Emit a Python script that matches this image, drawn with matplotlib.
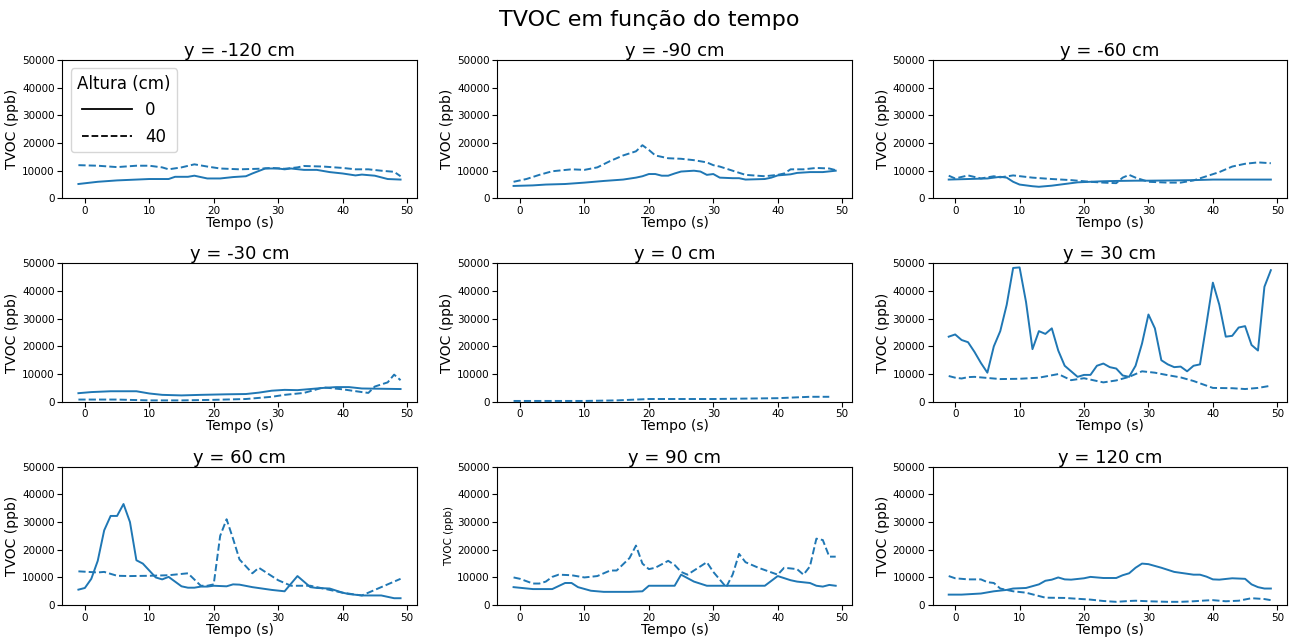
import matplotlib
matplotlib.use("Agg")
import matplotlib.pyplot as plt
from matplotlib.lines import Line2D

COR = "#1f77b4"

# ── dados (tempo em s, TVOC em ppb) ──
# y = -120 cm
t_m120_0 = [-1, 2, 5, 10, 13, 14, 16, 17, 19, 21, 23, 25, 26, 28, 30, 31, 32, 34, 36, 38, 40, 42, 43, 45, 47, 49]
v_m120_0 = [5200, 6000, 6500, 7000, 7000, 7800, 7800, 8200, 7200, 7200, 7700, 8000, 9000, 10800, 10800, 10500,
            10800, 10300, 10300, 9500, 9000, 8300, 8600, 8200, 7000, 6800]
t_m120_40 = [-1, 2, 5, 8, 10, 12, 13, 15, 17, 19, 21, 24, 27, 29, 31, 33, 34, 37, 40, 42, 44, 46, 48, 49]
v_m120_40 = [12000, 11800, 11300, 11800, 11800, 11200, 10500, 11200, 12300, 11500, 10800, 10500, 10700, 11000,
             10700, 11200, 11700, 11500, 11000, 10500, 10500, 10000, 9600, 8000]

# y = -90 cm
t_m90_0 = [-1, 2, 4, 7, 10, 13, 16, 18, 19, 20, 21, 22, 23, 24, 25, 27, 28, 29, 30, 31, 33, 34, 35, 38, 39, 40,
           42, 43, 45, 47, 49]
v_m90_0 = [4500, 4700, 5000, 5200, 5700, 6300, 6800, 7500, 8000, 8800, 8800, 8200, 8200, 9000, 9700, 10000, 9700,
           8500, 8800, 7500, 7300, 7300, 6800, 7000, 7500, 8300, 8700, 9200, 9500, 9500, 10000]
t_m90_40 = [-1, 1, 3, 5, 8, 10, 12, 14, 16, 18, 19, 20, 21, 23, 25, 27, 29, 30, 31, 33, 35, 38, 40, 41, 42, 44,
            46, 48, 49]
v_m90_40 = [6000, 7000, 8500, 9800, 10500, 10300, 11200, 13500, 15500, 17000, 19200, 17500, 15500, 14500, 14300,
            13800, 13000, 12000, 11500, 10000, 8500, 8000, 8500, 9000, 10500, 10500, 11000, 10800, 10200]

# y = -60 cm
t_m60_0 = [-1, 2, 5, 7, 8, 9, 10, 12, 13, 15, 17, 19, 21, 23, 25, 28, 30, 34, 37, 40, 44, 49]
v_m60_0 = [6800, 7000, 7200, 7800, 7500, 6000, 5000, 4400, 4200, 4600, 5200, 5800, 6000, 6200, 6300, 6400, 6400,
           6500, 6600, 6800, 6800, 6800]
t_m60_40 = [-1, 0, 2, 4, 6, 7, 9, 12, 15, 18, 21, 23, 25, 26, 27, 28, 30, 33, 35, 37, 39, 41, 43, 45, 47, 49]
v_m60_40 = [8200, 7200, 8300, 7200, 8000, 7600, 8300, 7500, 7000, 6600, 6000, 5700, 5500, 7500, 8500, 7500, 6000,
            5700, 5700, 6500, 8000, 9500, 11500, 12500, 13000, 12700]

# y = -30 cm
t_m30_0 = [-1, 1, 4, 8, 10, 12, 15, 18, 22, 25, 27, 29, 31, 33, 35, 37, 39, 41, 43, 46, 49]
v_m30_0 = [3100, 3500, 3800, 3800, 3000, 2500, 2300, 2500, 2700, 2800, 3300, 4000, 4300, 4200, 4600, 5000, 5300,
           5300, 4800, 4700, 4600]
t_m30_40 = [-1, 5, 10, 15, 20, 25, 29, 31, 34, 36, 37, 40, 43, 44, 45, 47, 48, 49]
v_m30_40 = [800, 800, 500, 500, 700, 1000, 1800, 2500, 3200, 4500, 5200, 4500, 3500, 3200, 5500, 7000, 9800, 7800]

# y = 0 cm (só a altura de 40 cm aparece)
t_0_40 = [-1, 10, 15, 20, 30, 40, 45, 48]
v_0_40 = [300, 300, 500, 1000, 1000, 1300, 1800, 1800]

# y = 30 cm
t_30_0 = list(range(-1, 50))
v_30_0 = [23500, 24300, 22300, 21500, 18000, 14000, 10500, 20000, 25500, 35000, 48300, 48500, 36000, 19000,
          25500, 24500, 26500, 18500, 13000, 11000, 9000, 9700, 9700, 13000, 13800, 12500, 12000, 9500, 9000,
          13000, 21000, 31500, 26500, 15000, 13500, 12500, 12700, 11000, 13000, 13500, 28000, 43000, 35000,
          23500, 23800, 26800, 27300, 20500, 18500, 41500, 47500]
t_30_40 = [-1, 0, 1, 2, 3, 5, 7, 10, 13, 16, 18, 20, 23, 25, 27, 29, 31, 33, 35, 37, 40, 43, 45, 47, 49]
v_30_40 = [9300, 8700, 8400, 8900, 9000, 8600, 8200, 8300, 8700, 10000, 7800, 8500, 7000, 7700, 9000, 11000,
           10500, 9600, 8800, 7500, 5000, 4900, 4600, 5000, 5800]

# y = 60 cm
t_60_0 = [-1, 0, 1, 2, 3, 4, 5, 6, 7, 8, 9, 10, 11, 12, 13, 14, 15, 16, 17, 18, 19, 20, 22, 23, 24, 26, 29, 31,
          33, 35, 36, 38, 40, 41, 43, 46, 48, 49]
v_60_0 = [5600, 6200, 9500, 16000, 27000, 32200, 32200, 36500, 30000, 16200, 15000, 12500, 10000, 9300, 10200,
          8500, 6800, 6300, 6300, 6700, 6700, 7000, 6800, 7500, 7400, 6500, 5500, 5000, 10500, 6500, 6200, 6000,
          4500, 4000, 3500, 3500, 2500, 2500]
t_60_40 = [-1, 2, 3, 5, 7, 10, 13, 16, 18, 19, 20, 21, 22, 23, 24, 26, 27, 30, 32, 35, 38, 40, 42, 43, 44, 46, 49]
v_60_40 = [12200, 11800, 12000, 10600, 10500, 10600, 10800, 11500, 7000, 7000, 7500, 25000, 31000, 24000, 16500,
           11500, 13500, 9000, 7000, 7000, 5500, 4500, 3800, 3500, 4500, 6500, 9500]

# y = 90 cm
t_90_0 = [-1, 2, 5, 7, 8, 9, 11, 13, 17, 19, 20, 23, 24, 25, 27, 29, 38, 40, 42, 43, 45, 46, 47, 48, 49]
v_90_0 = [6500, 5800, 5800, 8000, 8000, 6500, 5200, 4800, 4800, 5000, 7000, 7000, 7000, 11000, 8500, 7000, 7000,
          10500, 9000, 8500, 8000, 7000, 6700, 7300, 7000]
t_90_40 = [-1, 0, 2, 3, 4, 5, 6, 8, 10, 12, 13, 14, 15, 17, 18, 19, 20, 21, 23, 24, 25, 26, 27, 29, 30, 32, 33,
           34, 35, 37, 40, 41, 43, 44, 45, 46, 47, 48, 49]
v_90_40 = [10000, 9500, 7800, 7800, 8500, 10200, 11000, 10800, 10000, 10500, 11500, 12500, 12500, 17000, 21500,
           15000, 13000, 13500, 16000, 14500, 12000, 11000, 12500, 15500, 12000, 6500, 11000, 18500, 15500, 13500,
           11000, 13500, 13000, 11000, 14000, 24000, 23500, 17500, 17500]

# y = 120 cm
t_120_0 = [-1, 1, 4, 6, 8, 9, 11, 13, 14, 15, 16, 17, 18, 20, 21, 23, 25, 26, 27, 28, 29, 30, 32, 34, 37, 38, 39,
           40, 41, 43, 45, 46, 47, 48, 49]
v_120_0 = [3800, 3800, 4200, 5000, 5500, 6000, 6200, 7500, 8800, 9200, 10000, 9300, 9200, 9700, 10200, 9800, 9800,
           10800, 11500, 13500, 15000, 14800, 13500, 12000, 11000, 11000, 10300, 9300, 9200, 9700, 9500, 7500,
           6500, 6000, 6000]
t_120_40 = [-1, 0, 2, 4, 5, 6, 7, 9, 11, 14, 17, 19, 21, 23, 25, 27, 28, 30, 33, 35, 37, 39, 40, 42, 44, 46, 48, 49]
v_120_40 = [10500, 9700, 9300, 9300, 8300, 8000, 6000, 5000, 4500, 2700, 2600, 2300, 2000, 1500, 1200, 1500,
            1600, 1400, 1200, 1200, 1400, 1700, 1800, 1400, 1600, 2500, 2200, 1800]

POSICOES = [-120, -90, -60, -30, 0, 30, 60, 90, 120]
SERIES = [
    ((t_m120_0, v_m120_0), (t_m120_40, v_m120_40)),
    ((t_m90_0, v_m90_0), (t_m90_40, v_m90_40)),
    ((t_m60_0, v_m60_0), (t_m60_40, v_m60_40)),
    ((t_m30_0, v_m30_0), (t_m30_40, v_m30_40)),
    (None, (t_0_40, v_0_40)),
    ((t_30_0, v_30_0), (t_30_40, v_30_40)),
    ((t_60_0, v_60_0), (t_60_40, v_60_40)),
    ((t_90_0, v_90_0), (t_90_40, v_90_40)),
    ((t_120_0, v_120_0), (t_120_40, v_120_40)),
]

fig, axs = plt.subplots(3, 3, figsize=(12.98, 6.37), dpi=100)
fig.subplots_adjust(left=0.048, right=0.9915, top=0.906, bottom=0.05, wspace=0.228, hspace=0.468)
fig.suptitle("TVOC em função do tempo", fontsize=16, y=0.985)

for ax, pos, (s0, s40) in zip(axs.flat, POSICOES, SERIES):
    if s0 is not None:
        ax.plot(s0[0], s0[1], "-", color=COR, lw=1.4)
    ax.plot(s40[0], s40[1], "--", color=COR, lw=1.4)
    ax.set_ylim(0, 50000)
    ax.set_xlim(-3.5, 51.5)
    ax.set_xticks([0, 10, 20, 30, 40, 50])
    ax.set_yticks([0, 10000, 20000, 30000, 40000, 50000])
    ax.tick_params(labelsize=7.5, pad=2)
    ax.set_title(f"y = {pos} cm", fontsize=13, pad=2)
    ax.set_xlabel("Tempo (s)", fontsize=10, labelpad=0)
    ax.set_ylabel("TVOC (ppb)", fontsize=7.5 if pos == 90 else 10, labelpad=2)

handles = [Line2D([], [], color="black", ls="-", lw=1.3),
           Line2D([], [], color="black", ls="--", lw=1.3)]
axs[0, 0].legend(handles, ["0", "40"], title="Altura (cm)", loc="upper left",
                 fontsize=12, title_fontsize=12, handlelength=3)

fig.savefig("out.png", dpi=100)
